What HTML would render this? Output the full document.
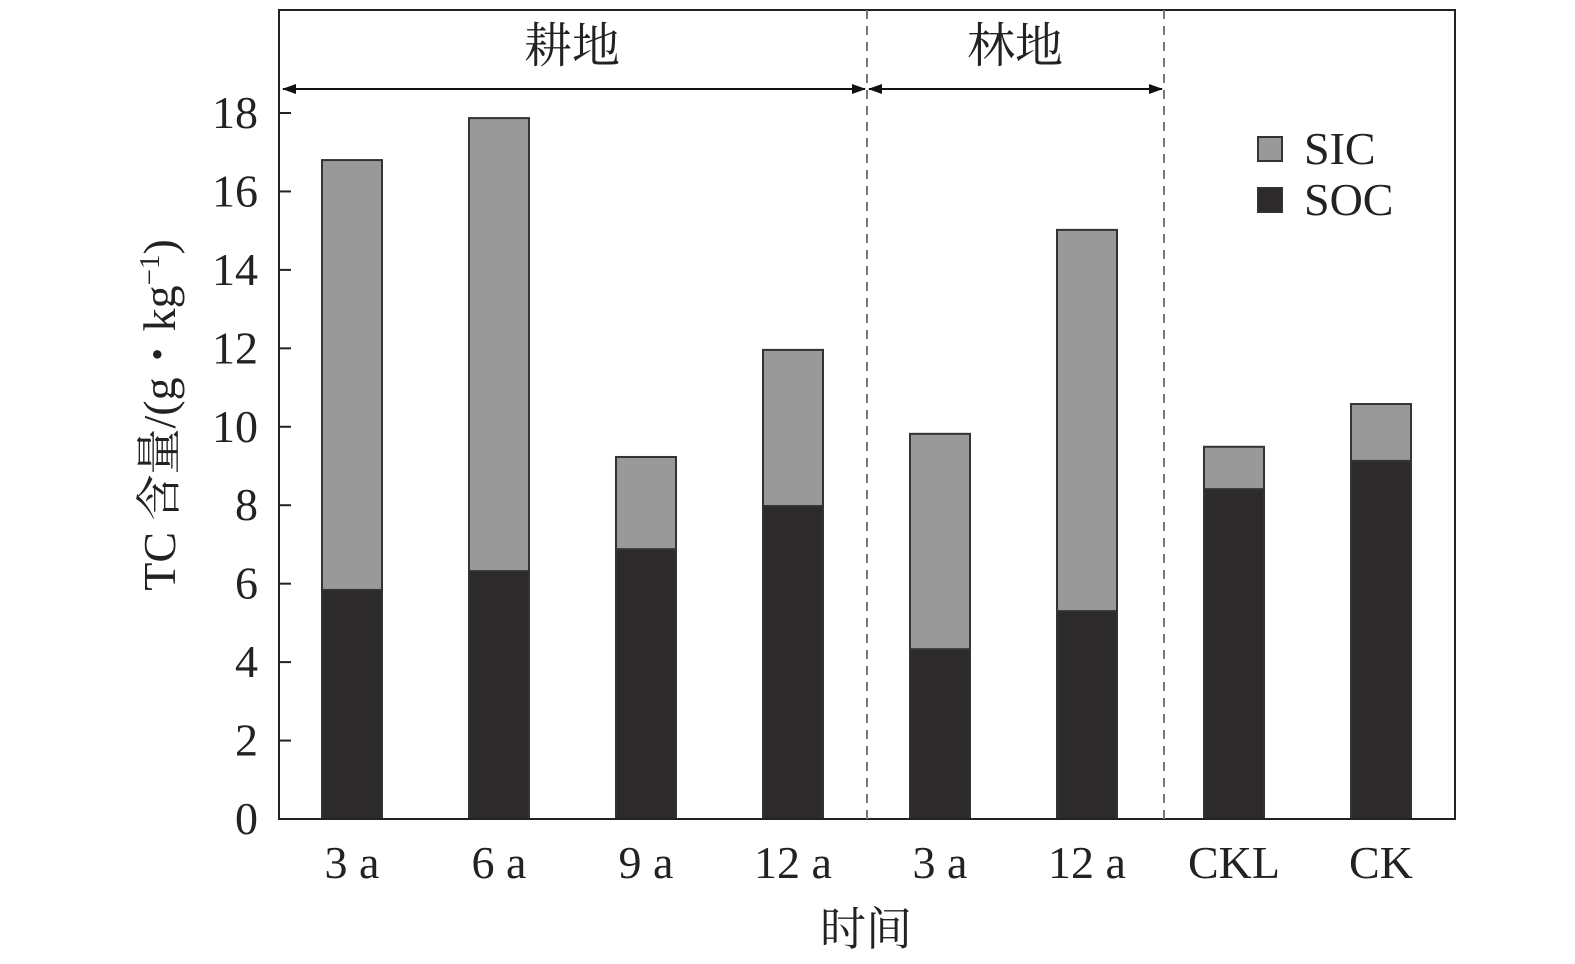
<!DOCTYPE html>
<html><head><meta charset="utf-8"><style>
html,body{margin:0;padding:0;background:#fff;}
svg{display:block;font-family:"Liberation Serif","Noto Serif CJK SC",serif;}
</style></head><body>
<svg id="chart" width="1575" height="964" viewBox="0 0 1575 964">
<defs>
<marker id="ah" markerWidth="14" markerHeight="10" refX="13" refY="5" orient="auto-start-reverse" markerUnits="userSpaceOnUse">
<path d="M0,0 L14,5 L0,10 Z" fill="#111"/></marker>
</defs>
<g id="bars"></g>
<rect x="279" y="10" width="1176" height="809" fill="none" stroke="#222" stroke-width="2"/>
<g id="axes"></g>
<line x1="867" y1="10" x2="867" y2="819" stroke="#777" stroke-width="2" stroke-dasharray="9,7"/>
<line x1="1164" y1="10" x2="1164" y2="819" stroke="#777" stroke-width="2" stroke-dasharray="9,7"/>
<line x1="283" y1="89" x2="865" y2="89" stroke="#111" stroke-width="2" marker-start="url(#ah)" marker-end="url(#ah)"/>
<line x1="869" y1="89" x2="1162" y2="89" stroke="#111" stroke-width="2" marker-start="url(#ah)" marker-end="url(#ah)"/>
<text x="572" y="62" font-size="48" text-anchor="middle" fill="#222">耕地</text>
<text x="1015" y="62" font-size="48" text-anchor="middle" fill="#222">林地</text>
<g>
<rect x="1258" y="137" width="24" height="24" fill="#999" stroke="#333" stroke-width="2"/>
<text x="1304" y="164" font-size="46" fill="#222">SIC</text>
<rect x="1258" y="188" width="24" height="24" fill="#2d2a2b" stroke="#333" stroke-width="2"/>
<text x="1304" y="215" font-size="46" fill="#222">SOC</text>
</g>
<text x="866" y="945" font-size="46" text-anchor="middle" fill="#222">时间</text>
<text transform="translate(175,415) rotate(-90)" font-size="46" text-anchor="middle" fill="#222">TC 含量/(g・kg<tspan font-size="29" dy="-16">−1</tspan><tspan dy="16">)</tspan></text>
</svg>
<script>
const categories=["3 a","6 a","9 a","12 a","3 a","12 a","CKL","CK"];
const socValues=[5.84,6.32,6.88,7.98,4.33,5.30,8.41,9.13];
const sicValues=[10.96,11.55,2.35,3.98,5.49,9.72,1.08,1.45];
const yTicks=[0,2,4,6,8,10,12,14,16,18];
const NS="http://www.w3.org/2000/svg";
const plotL=279,y0=819,yPerUnit=(819-113)/18;
const bandW=147;
function yScale(v){return y0-v*yPerUnit;}
function xCenter(i){return plotL+73+i*bandW;}
const bw=60;
const bars=document.getElementById('bars');
const axes=document.getElementById('axes');
categories.forEach((c,i)=>{
 const x=xCenter(i)-bw/2;
 const s=document.createElementNS(NS,'rect');
 s.setAttribute('x',x);s.setAttribute('y',yScale(socValues[i]));
 s.setAttribute('width',bw);s.setAttribute('height',socValues[i]*yPerUnit);
 s.setAttribute('fill','#2d2a2b');s.setAttribute('stroke','#333');s.setAttribute('stroke-width','2');
 
 
 bars.appendChild(s);
 const t=socValues[i]+sicValues[i];
 const r=document.createElementNS(NS,'rect');
 r.setAttribute('x',x);r.setAttribute('y',yScale(t));
 r.setAttribute('width',bw);r.setAttribute('height',sicValues[i]*yPerUnit);
 r.setAttribute('fill','#999');r.setAttribute('stroke','#333');r.setAttribute('stroke-width','2');
 
 
 bars.appendChild(r);
 const l=document.createElementNS(NS,'text');
 l.setAttribute('x',xCenter(i));l.setAttribute('y',878);
 l.setAttribute('font-size','46');l.setAttribute('text-anchor','middle');l.setAttribute('fill','#222');
 
 
 l.textContent=c;axes.appendChild(l);
});
yTicks.forEach(v=>{
 const y=yScale(v);
 const tk=document.createElementNS(NS,'line');
 tk.setAttribute('x1',plotL);tk.setAttribute('x2',plotL+12);tk.setAttribute('y1',y);tk.setAttribute('y2',y);
 tk.setAttribute('stroke','#222');tk.setAttribute('stroke-width','2');
 
 
 axes.appendChild(tk);
 const l=document.createElementNS(NS,'text');
 l.setAttribute('x',258);l.setAttribute('y',y+15);
 l.setAttribute('font-size','46');l.setAttribute('text-anchor','end');l.setAttribute('fill','#222');
 
 
 l.textContent=v;axes.appendChild(l);
});
</script>
</body></html>
